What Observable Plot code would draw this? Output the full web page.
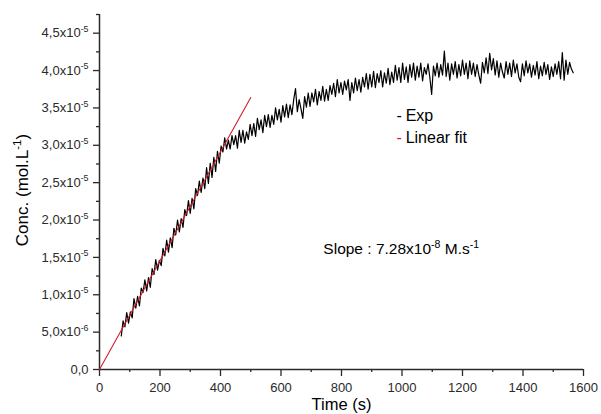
<!DOCTYPE html>
<html>
<head>
<meta charset="utf-8">
<script src="https://cdn.jsdelivr.net/npm/d3@7"></script>
<script src="https://cdn.jsdelivr.net/npm/@observablehq/plot@0.6"></script>
<style>
  body { margin: 0; background: #fff; }
</style>
</head>
<body>
<script>
// Experimental concentration, units of 1e-5 mol/L, sampled every 6 s from t = 72 s
const t0 = 72;
const dt = 6;
const conc = [
  0.45,0.65,0.57,0.76,0.62,0.77,0.69,0.95,0.82,0.98,
  0.85,1.09,1.03,1.20,1.05,1.23,1.10,1.35,1.27,1.47,
  1.33,1.46,1.39,1.62,1.52,1.73,1.57,1.76,1.63,1.89,
  1.80,2.00,1.84,2.02,1.90,2.14,2.06,2.26,2.09,2.29,
  2.15,2.42,2.33,2.52,2.37,2.56,2.42,2.70,2.49,2.76,
  2.57,2.84,2.65,2.92,2.76,2.99,2.91,3.10,2.95,
  3.07,2.95,3.13,3.01,3.13,2.96,3.20,3.04,3.20,3.03,
  3.18,3.08,3.28,3.13,3.29,3.12,3.36,3.21,3.34,3.17,
  3.40,3.25,3.41,3.24,3.40,3.28,3.50,3.34,3.48,3.31,
  3.53,3.38,3.55,3.37,3.54,3.41,3.61,3.76,3.45,3.61,
  3.49,3.36,3.65,3.51,3.70,3.52,3.70,3.58,3.75,3.54,
  3.72,3.60,3.79,3.59,3.75,3.60,3.80,3.68,3.83,3.65,
  3.88,3.70,3.84,
  3.68,3.86,3.74,3.88,3.60,3.84,3.70,3.90,3.73,3.88,
  3.71,3.91,3.78,3.96,3.75,3.95,3.78,3.99,3.77,3.96,
  3.84,4.00,3.78,3.97,3.83,4.03,3.81,3.98,3.84,4.07,
  3.87,4.04,3.84,4.10,3.88,4.05,3.84,4.08,3.91,4.10,
  3.87,4.06,3.91,4.10,3.86,4.04,3.95,4.09,3.91,3.68,
  4.06,3.93,4.10,3.91,4.08,3.94,4.26,3.92,4.10,3.87,
  4.09,3.95,4.12,3.90,4.08,3.93,4.14,3.95,4.10,3.89,
  4.13,3.95,4.10,3.92,4.08,3.94,3.83,4.11,3.97,4.17,
  3.96,4.23,4.01,4.16,3.94,4.13,3.91,4.10,3.98,3.90,
  4.12,3.95,4.10,3.92,4.14,3.97,4.09,3.91,3.85,4.09,
  3.93,4.13,3.97,4.09,3.91,4.07,3.94,4.12,3.89,4.06,
  3.93,4.11,3.95,4.08,3.88,4.05,3.92,4.09,3.95,4.12,
  3.89,4.24,3.87,4.14,3.95,4.11,4.02,3.97
];
const time = d3.range(conc.length).map(i => t0 + i * dt);

// Linear fit (slope 7.28e-8 M/s), endpoints
const fitTime = [0, 500];
const fitConc = [0, 3.64];

// Axis ticks
const xMajor = [0, 200, 400, 600, 800, 1000, 1200, 1400, 1600];
const xMinor = [100, 300, 500, 700, 900, 1100, 1300, 1500];
const yMajor = [0, 0.5, 1, 1.5, 2, 2.5, 3, 3.5, 4, 4.5];
const yMinor = [0.25, 0.75, 1.25, 1.75, 2.25, 2.75, 3.25, 3.75, 4.25, 4.75];

const legendLabels = ["Exp", "Linear fit"];
const slopeLabel = "Slope : 7.28x10^-8 M.s^-1";

const exp = conc.map((c, i) => ({t: time[i], c}));
const fit = fitTime.map((t, i) => ({t, c: fitConc[i]}));

const yFmt = v => v === 0 ? "0,0"
  : v < 1 ? (v * 10).toFixed(1).replace(".", ",") + "x10^-6"
  : v.toFixed(1).replace(".", ",") + "x10^-5";

const font = "'Liberation Sans', Arial, sans-serif";
const ink = "#2a2a2a";

const svg = Plot.plot({
  width: 601,
  height: 414,
  marginLeft: 99,
  marginRight: 18,
  marginTop: 14,
  marginBottom: 45,
  style: {fontFamily: font, background: "#fff", color: ink},
  x: {domain: [0, 1600], label: null},
  y: {domain: [0, 4.75], label: null},
  marks: [
    Plot.axisX({ticks: xMajor, tickSize: 7, tickPadding: 6, fontSize: 13, tickFormat: d => String(d), label: null, strokeWidth: 1.3}),
    Plot.axisX({ticks: xMinor, tickSize: 3, tickFormat: () => "", label: null, strokeWidth: 1.3}),
    Plot.axisY({ticks: yMajor, tickSize: 6, tickPadding: 5, fontSize: 13, tickFormat: yFmt, label: null, strokeWidth: 1.3}),
    Plot.axisY({ticks: yMinor, tickSize: 3, tickFormat: () => "", label: null, strokeWidth: 1.3}),
    Plot.ruleX([0], {stroke: ink, strokeWidth: 1.5}),
    Plot.ruleY([0], {stroke: ink, strokeWidth: 1.5}),
    Plot.line(exp, {x: "t", y: "c", stroke: "#000", strokeWidth: 1.2}),
    Plot.line(fit, {x: "t", y: "c", stroke: "#d0202a", strokeWidth: 1.1}),
    // legend
    Plot.text(["-"], {x: 982, y: 3.39, text: d => d, fill: "#000", fontSize: 16, textAnchor: "start"}),
    Plot.text(["-"], {x: 982, y: 3.10, text: d => d, fill: "#d0202a", fontSize: 16, textAnchor: "start"}),
    Plot.text([legendLabels[0]], {x: 1012, y: 3.39, text: d => d, fill: "#000", fontSize: 16, textAnchor: "start"}),
    Plot.text([legendLabels[1]], {x: 1012, y: 3.10, text: d => d, fill: "#000", fontSize: 16, textAnchor: "start"}),
    // annotation
    Plot.text([slopeLabel], {x: 740, y: 1.61, text: d => d, fill: "#000", fontSize: 15.5, textAnchor: "start"}),
    // axis titles
    Plot.text(["Conc. (mol.L^-1)"], {frameAnchor: "left", textAnchor: "middle", rotate: -90, dx: -77, dy: -2, text: d => d, fill: "#000", fontSize: 17}),
    Plot.text(["Time (s)"], {frameAnchor: "bottom", textAnchor: "middle", dy: 40, text: d => d, fill: "#000", fontSize: 16.5})
  ]
});
document.body.appendChild(svg);

// Turn "^-n" into raised superscripts
function supify(root) {
  root.querySelectorAll("text").forEach(el => {
    const s = el.textContent;
    if (!s.includes("^")) return;
    const size = parseFloat(getComputedStyle(el).fontSize) || 12;
    const shift = size * 0.42;
    const parts = s.split(/\^(-?\d+)/);
    while (el.firstChild) el.removeChild(el.firstChild);
    let raised = false;
    parts.forEach((p, i) => {
      if (p === "") { return; }
      const ts = document.createElementNS("http://www.w3.org/2000/svg", "tspan");
      ts.textContent = p;
      if (i % 2 === 1) {
        ts.setAttribute("font-size", size * 0.68);
        ts.setAttribute("dy", -shift);
        raised = true;
      } else if (raised) {
        ts.setAttribute("dy", shift);
        raised = false;
      }
      el.appendChild(ts);
    });
  });
}
supify(svg);
</script>
</body>
</html>
